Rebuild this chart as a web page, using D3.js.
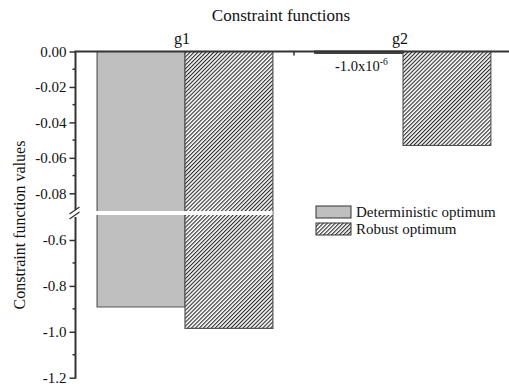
<!DOCTYPE html>
<html><head><meta charset="utf-8">
<script src="https://cdn.jsdelivr.net/npm/d3@7"></script>
<style>body{margin:0;background:#fff}svg{display:block}</style>
</head><body>
<script>
const categories = ["g1", "g2"];
const seriesNames = ["Deterministic optimum", "Robust optimum"];
const deterministic = [-0.892, -1.0e-6];
const robust = [-0.985, -0.053];
const upperTicks = [0, -0.02, -0.04, -0.06, -0.08];
const upperMinor = [-0.01, -0.03, -0.05, -0.07];
const lowerTicks = [-0.6, -0.8, -1.0, -1.2];
const lowerMinor = [-0.7, -0.9, -1.1];
const annotation = "-1.0x10";

const FONT = "'Liberation Serif', 'Times New Roman', serif";
const W = 509, H = 388;
const svg = d3.select("body").append("svg").attr("width", W).attr("height", H);
const defs = svg.append("defs");
const pat = defs.append("pattern").attr("id","hatch").attr("patternUnits","userSpaceOnUse")
  .attr("width",2.8).attr("height",2.8).attr("patternTransform","rotate(45)");
pat.append("rect").attr("width",2.8).attr("height",2.8).attr("fill","#fff");
pat.append("line").attr("x1",0.5).attr("y1",0).attr("x2",0.5).attr("y2",2.8).attr("stroke","#2a2a2a").attr("stroke-width",1.2);

const axX = 75.5, topY = 51.5;
const x = d3.scaleBand().domain(categories).range([76, 512]).padding(0);
const xs = d3.scaleBand().domain([0,1]).range([0, x.bandwidth()]).paddingOuter(0.24).paddingInner(0);
const yU = d3.scaleLinear().domain([0, -0.09]).range([topY, 211]);
const yL = d3.scaleLinear().domain([-0.6, -1.2]).range([240, 377.7]);
const breakTop = 211, breakBot = 215;

const fills = ["#bfbfbf", "url(#hatch)"];
const series = [deterministic, robust];
series.forEach((vals, si) => {
  categories.forEach((c, ci) => {
    const v = vals[ci];
    const x0 = x(c) + xs(si), w = xs.bandwidth();
    if (v >= -0.09) {
      const h = Math.max(yU(v) - yU(0), 1.5);
      svg.append("rect").attr("x", x0).attr("y", yU(0)).attr("width", w).attr("height", h)
        .attr("fill", fills[si]).attr("stroke", "#444").attr("stroke-width", v > -0.001 ? 2 : 1);
    } else {
      svg.append("rect").attr("x", x0).attr("y", yU(0)).attr("width", w).attr("height", yU(-0.09) - yU(0))
        .attr("fill", fills[si]).attr("stroke", "none");
      svg.append("rect").attr("x", x0).attr("y", breakBot).attr("width", w).attr("height", yL(v) - breakBot)
        .attr("fill", fills[si]).attr("stroke", "none");
      svg.append("path").attr("fill","none").attr("stroke","#555").attr("stroke-width",1.2)
        .attr("d", `M${x0},${yU(0)}V${yL(v)}H${x0+w}V${yU(0)}`);
    }
  });
});
svg.append("rect").attr("x", axX - 3).attr("y", breakTop).attr("width", 200).attr("height", breakBot - breakTop).attr("fill","#fff");

const ax = svg.append("g").attr("stroke","#333").attr("stroke-width",2);
ax.append("line").attr("x1",axX).attr("x2",axX).attr("y1",topY).attr("y2",breakTop - 1);
ax.append("line").attr("x1",axX).attr("x2",axX).attr("y1",breakBot + 2).attr("y2",yL(-1.2)+1);
svg.append("path").attr("stroke","#333").attr("stroke-width",1.3).attr("fill","none")
  .attr("d", `M${axX-6},${breakTop+3}L${axX+4},${breakTop-4}M${axX-6},${breakBot+4}L${axX+4},${breakBot-3}`);

const axU = d3.axisLeft(yU).tickValues(upperTicks).tickFormat(d3.format(".2f")).tickSize(6).tickPadding(3);
const axL = d3.axisLeft(yL).tickValues(lowerTicks).tickFormat(d3.format(".1f")).tickSize(6).tickPadding(3);
[[axU, upperMinor, yU], [axL, lowerMinor, yL]].forEach(([a, minor, s]) => {
  const g = svg.append("g").attr("transform", `translate(${axX},0)`).call(a);
  g.attr("font-family", null);
  g.select(".domain").remove();
  g.selectAll(".tick line").attr("stroke","#333").attr("stroke-width",1.5);
  g.selectAll(".tick text").style("font-family", FONT).style("font-size","15px").attr("fill","#111")
    .text(function(){ return d3.select(this).text().replace("\u2212","-"); });
  minor.forEach(m => svg.append("line").attr("x1",axX-3).attr("x2",axX).attr("y1",s(m)).attr("y2",s(m)).attr("stroke","#333").attr("stroke-width",1.5));
});

svg.append("line").attr("x1",axX-1).attr("x2",W).attr("y1",topY).attr("y2",topY).attr("stroke","#333").attr("stroke-width",2);
const axT = d3.axisTop(x).tickSize(0).tickPadding(8);
const gt = svg.append("g").attr("transform",`translate(0,${topY})`).call(axT);
gt.attr("font-family", null);
gt.select(".domain").remove();
gt.selectAll(".tick text").style("font-family", FONT).style("font-size","16px").attr("fill","#111").attr("dx", -3);
svg.append("line").attr("x1",x("g2")).attr("x2",x("g2")).attr("y1",topY).attr("y2",topY+4).attr("stroke","#333").attr("stroke-width",1.5);

svg.append("text").attr("x", 281).attr("y", 21).attr("text-anchor","middle").style("font-family", FONT).style("font-size","17px").attr("fill","#111").text("Constraint functions");
svg.append("text").attr("transform","translate(25,225) rotate(-90)").attr("text-anchor","middle").style("font-family", FONT).style("font-size","16px").attr("fill","#111").text("Constraint function values");

const an = svg.append("text").attr("x", 335).attr("y", 71).style("font-family", FONT).style("font-size","14.5px").attr("fill","#111").text(annotation);
an.append("tspan").attr("dy",-6).style("font-size","9.5px").text("-6");

const leg = svg.append("g").attr("transform","translate(316,206)");
seriesNames.forEach((n, i) => {
  const gy = i * 17;
  leg.append("rect").attr("x",0).attr("y",gy).attr("width",35).attr("height",12).attr("fill",fills[i]).attr("stroke","#333").attr("stroke-width",1);
  leg.append("text").attr("x",40).attr("y",gy+11).style("font-family", FONT).style("font-size","15px").attr("fill","#111").text(n);
});
</script>
</body></html>
